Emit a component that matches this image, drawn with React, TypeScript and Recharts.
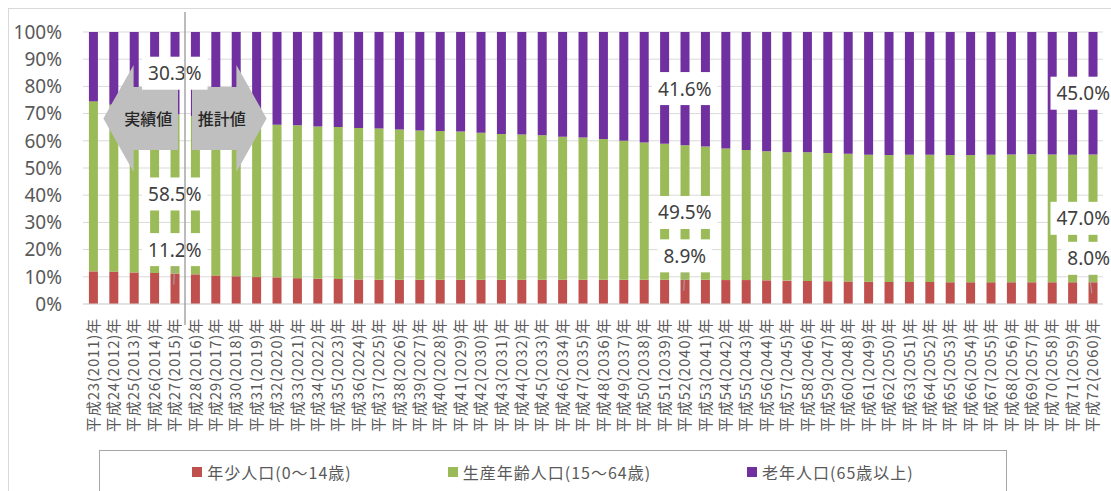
import React from 'react';
import {
  BarChart,
  Bar,
  XAxis,
  YAxis,
  CartesianGrid,
  Legend,
  ReferenceLine,
  ReferenceArea,
  ReferenceDot,
} from 'recharts';

const W = 1111;
const H = 491;

// 年次（和暦・西暦）
const categories = [
  '平成23(2011)年', '平成24(2012)年', '平成25(2013)年', '平成26(2014)年', '平成27(2015)年',
  '平成28(2016)年', '平成29(2017)年', '平成30(2018)年', '平成31(2019)年', '平成32(2020)年',
  '平成33(2021)年', '平成34(2022)年', '平成35(2023)年', '平成36(2024)年', '平成37(2025)年',
  '平成38(2026)年', '平成39(2027)年', '平成40(2028)年', '平成41(2029)年', '平成42(2030)年',
  '平成43(2031)年', '平成44(2032)年', '平成45(2033)年', '平成46(2034)年', '平成47(2035)年',
  '平成48(2036)年', '平成49(2037)年', '平成50(2038)年', '平成51(2039)年', '平成52(2040)年',
  '平成53(2041)年', '平成54(2042)年', '平成55(2043)年', '平成56(2044)年', '平成57(2045)年',
  '平成58(2046)年', '平成59(2047)年', '平成60(2048)年', '平成61(2049)年', '平成62(2050)年',
  '平成63(2051)年', '平成64(2052)年', '平成65(2053)年', '平成66(2054)年', '平成67(2055)年',
  '平成68(2056)年', '平成69(2057)年', '平成70(2058)年', '平成71(2059)年', '平成72(2060)年',
];

// 年少人口(0〜14歳) の構成比 (%)
const youth = [
  12.0, 11.9, 11.6, 11.4, 11.2, 10.9, 10.5, 10.2, 9.9, 9.8,
  9.5, 9.3, 9.2, 9.0, 8.9, 8.9, 8.9, 8.9, 8.9, 8.9,
  8.9, 8.9, 8.9, 8.9, 8.9, 8.9, 8.9, 8.9, 8.9, 8.9,
  8.9, 8.8, 8.8, 8.7, 8.6, 8.5, 8.4, 8.3, 8.2, 8.1,
  8.1, 8.1, 8.0, 8.0, 8.0, 8.0, 8.0, 8.0, 8.0, 8.0,
];

// 生産年齢人口(15〜64歳) の構成比 (%)
const working = [
  62.5, 61.4, 60.4, 59.4, 58.5, 58.2, 57.8, 57.3, 56.8, 56.1,
  56.2, 56.0, 55.9, 55.7, 55.6, 55.3, 54.9, 54.7, 54.5, 54.1,
  53.6, 53.4, 53.1, 52.6, 52.3, 51.8, 51.1, 50.5, 50.0, 49.5,
  49.0, 48.4, 47.8, 47.5, 47.2, 47.3, 47.1, 46.9, 46.7, 46.7,
  46.8, 46.8, 46.8, 46.8, 46.9, 47.0, 47.1, 47.0, 46.9, 47.0,
];

// 老年人口(65歳以上) の構成比 (%)
const elderly = [
  25.5, 26.7, 28.0, 29.2, 30.3, 30.9, 31.7, 32.5, 33.3, 34.1,
  34.3, 34.7, 34.9, 35.3, 35.5, 35.8, 36.2, 36.4, 36.6, 37.0,
  37.5, 37.7, 38.0, 38.5, 38.8, 39.3, 40.0, 40.6, 41.1, 41.6,
  42.1, 42.8, 43.4, 43.8, 44.2, 44.2, 44.5, 44.8, 45.1, 45.2,
  45.1, 45.1, 45.2, 45.2, 45.1, 45.0, 44.9, 45.0, 45.1, 45.0,
];

const yTicks = [0, 10, 20, 30, 40, 50, 60, 70, 80, 90, 100];

// 構成比を表示する年 (index)
const taggedYears = [4, 29, 49];

// 推計値の最初の年 (index)
const firstEstimateIndex = 5;

const seriesDefs = [
  { key: 'youth', name: '年少人口(0〜14歳)', color: '#C0504D' },
  { key: 'working', name: '生産年齢人口(15〜64歳)', color: '#9BBB59' },
  { key: 'elderly', name: '老年人口(65歳以上)', color: '#7030A0' },
];

const data = categories.map((name, i) => ({
  name,
  youth: youth[i],
  working: working[i],
  elderly: elderly[i],
}));

const CJK = '"Noto Sans CJK JP", "Noto Sans", sans-serif';
const LATIN = '"Noto Sans", "Noto Sans CJK JP", sans-serif';
const TEXT_GRAY = '#595959';

// 年少人口のラベルは棒の上側に置く（構成比ポイント分の持ち上げ）
const YOUTH_TAG_LIFT = 8.8;

const TAG_FONT = 19;
const glyphEm = (ch: string) => (ch === '.' ? 0.27 : ch === '%' ? 0.83 : 0.572);
const textWidth = (s: string) => s.split('').reduce((a, c) => a + glyphEm(c), 0) * TAG_FONT;

function ValueTag(props: any) {
  const { cx, cy, label, leader } = props;
  const tw = textWidth(label);
  const tx = Math.min(cx, W - 1 - tw / 2);
  const boxW = tw + 12;
  const boxH = 33;
  return (
    <g>
      {leader && (
        <line x1={tx} y1={cy + 10} x2={cx - 1} y2={cy + 35} stroke="#a6a6a6" strokeWidth={1} />
      )}
      <rect x={tx - boxW / 2} y={cy - boxH / 2} width={boxW} height={boxH} fill="#ffffff" />
      <text
        x={tx}
        y={cy}
        textAnchor="middle"
        dominantBaseline="central"
        fontSize={TAG_FONT}
        fill="#404040"
        fontFamily={LATIN}
      >
        {label}
      </text>
    </g>
  );
}

// 実績値／推計値の矢印。境界線側に少し隙間をあける
function BlockArrow(props: any) {
  const { dir, text } = props;
  const gap = 7;
  const x = dir === 'left' ? props.x : props.x + gap;
  const width = props.width - gap;
  const { y, height } = props;
  const head = width * 0.405;
  const inset = height * 0.206;
  const midY = y + height / 2;
  let pts: number[][];
  let tx: number;
  if (dir === 'left') {
    pts = [
      [x, midY],
      [x + head, y],
      [x + head, y + inset],
      [x + width, y + inset],
      [x + width, y + height - inset],
      [x + head, y + height - inset],
      [x + head, y + height],
    ];
    tx = x + width / 2 + head / 4;
  } else {
    pts = [
      [x + width, midY],
      [x + width - head, y],
      [x + width - head, y + inset],
      [x, y + inset],
      [x, y + height - inset],
      [x + width - head, y + height - inset],
      [x + width - head, y + height],
    ];
    tx = x + width / 2 - head / 4;
  }
  return (
    <g>
      <polygon points={pts.map((p) => p.join(',')).join(' ')} fill="#BFBFBF" />
      <text
        x={tx}
        y={midY}
        textAnchor="middle"
        dominantBaseline="central"
        fontSize={16}
        fill="#262626"
        fontFamily={CJK}
        fontWeight={500}
      >
        {text}
      </text>
    </g>
  );
}

// 境界線は作図領域の上下に少しはみ出す
function DividerLine(props: any) {
  const { x1, y1, x2, y2 } = props;
  const top = Math.min(y1, y2) - 20;
  const bottom = Math.max(y1, y2) + 21;
  return <line x1={x1} x2={x2} y1={top} y2={bottom} stroke="#a6a6a6" strokeWidth={1.5} />;
}

function YearTick(props: any) {
  const { x, y, payload } = props;
  return (
    <text
      x={x}
      y={y}
      dy="0.36em"
      transform={`rotate(-90 ${x} ${y})`}
      textAnchor="end"
      fontSize={15}
      letterSpacing={0.8}
      fill={TEXT_GRAY}
      fontFamily={CJK}
    >
      {payload.value}
    </text>
  );
}

function LegendBox(props: any) {
  const payload = (props.payload || []) as any[];
  return (
    <div
      style={{
        boxSizing: 'border-box',
        width: 908,
        height: 60,
        border: '1px solid #a6a6a6',
        display: 'flex',
        justifyContent: 'center',
        alignItems: 'flex-start',
        paddingTop: 11,
        gap: 96,
        fontFamily: CJK,
        fontSize: 16,
        letterSpacing: 1,
        color: TEXT_GRAY,
      }}
    >
      {payload.map((entry) => (
        <div key={entry.value} style={{ display: 'flex', alignItems: 'center', height: 20, whiteSpace: 'nowrap' }}>
          <span style={{ display: 'inline-block', width: 10, height: 10, background: entry.color, marginRight: 5 }} />
          <span>{entry.value}</span>
        </div>
      ))}
    </div>
  );
}

const fmt = (v: number) => `${v.toFixed(1)}%`;

export default function App() {
  const tags: { x: string; y: number; label: string; leader: boolean; key: string }[] = [];
  taggedYears.forEach((i) => {
    tags.push({
      key: `e${i}`,
      x: categories[i],
      y: youth[i] + working[i] + elderly[i] / 2,
      label: fmt(elderly[i]),
      leader: false,
    });
    tags.push({
      key: `w${i}`,
      x: categories[i],
      y: youth[i] + working[i] / 2,
      label: fmt(working[i]),
      leader: false,
    });
    tags.push({
      key: `y${i}`,
      x: categories[i],
      y: youth[i] + YOUTH_TAG_LIFT,
      label: fmt(youth[i]),
      leader: true,
    });
  });

  return (
    <div style={{ position: 'absolute', left: 0, top: 0, width: W, height: H, background: '#ffffff', overflow: 'hidden' }}>
      <div
        style={{
          position: 'absolute',
          left: 8,
          top: 8,
          width: W,
          height: H,
          borderLeft: '1px solid #d9d9d9',
          borderTop: '1px solid #d9d9d9',
        }}
      />
      <div style={{ position: 'absolute', left: 0, top: 0 }}>
        <BarChart
          width={W}
          height={H}
          data={data}
          margin={{ top: 32, right: 8, left: 0, bottom: 47 }}
          barCategoryGap="29%"
        >
          <CartesianGrid vertical={false} stroke="#d9d9d9" strokeWidth={1} />
          <XAxis
            dataKey="name"
            interval={0}
            height={140}
            tickLine={false}
            tickMargin={8}
            axisLine={{ stroke: '#d9d9d9' }}
            tick={<YearTick />}
          />
          <YAxis
            domain={[0, 100]}
            ticks={yTicks}
            allowDataOverflow
            interval={0}
            width={83}
            axisLine={false}
            tickLine={false}
            tickMargin={15}
            tickFormatter={(v: number) => `${v}%`}
            tick={{ fontSize: 19, fill: TEXT_GRAY, fontFamily: LATIN }}
          />
          <Legend
            layout="horizontal"
            verticalAlign="middle"
            align="center"
            content={<LegendBox />}
            wrapperStyle={{ left: 99, top: 450, width: 908, height: 60 }}
          />
          {seriesDefs.map((s) => (
            <Bar
              key={s.key}
              dataKey={s.key}
              name={s.name}
              stackId="pop"
              fill={s.color}
              isAnimationActive={false}
            />
          ))}
          <ReferenceArea
            x1={categories[1]}
            x2={categories[firstEstimateIndex - 1]}
            y1={48.5}
            y2={87.9}
            ifOverflow="visible"
            zIndex={1500}
            shape={(p: any) => <BlockArrow {...p} dir="left" text="実績値" />}
          />
          <ReferenceArea
            x1={categories[firstEstimateIndex]}
            x2={categories[firstEstimateIndex + 3]}
            y1={48.5}
            y2={87.9}
            ifOverflow="visible"
            zIndex={1500}
            shape={(p: any) => <BlockArrow {...p} dir="right" text="推計値" />}
          />
          {tags.map((t) => (
            <ReferenceDot
              key={t.key}
              x={t.x}
              y={t.y}
              r={1}
              ifOverflow="visible"
              zIndex={1600}
              shape={(p: any) => <ValueTag cx={p.cx} cy={p.cy} label={t.label} leader={t.leader} />}
            />
          ))}
          <ReferenceLine
            x={categories[firstEstimateIndex]}
            position="start"
            ifOverflow="visible"
            zIndex={1700}
            shape={(p: any) => <DividerLine {...p} />}
          />
        </BarChart>
      </div>
    </div>
  );
}
